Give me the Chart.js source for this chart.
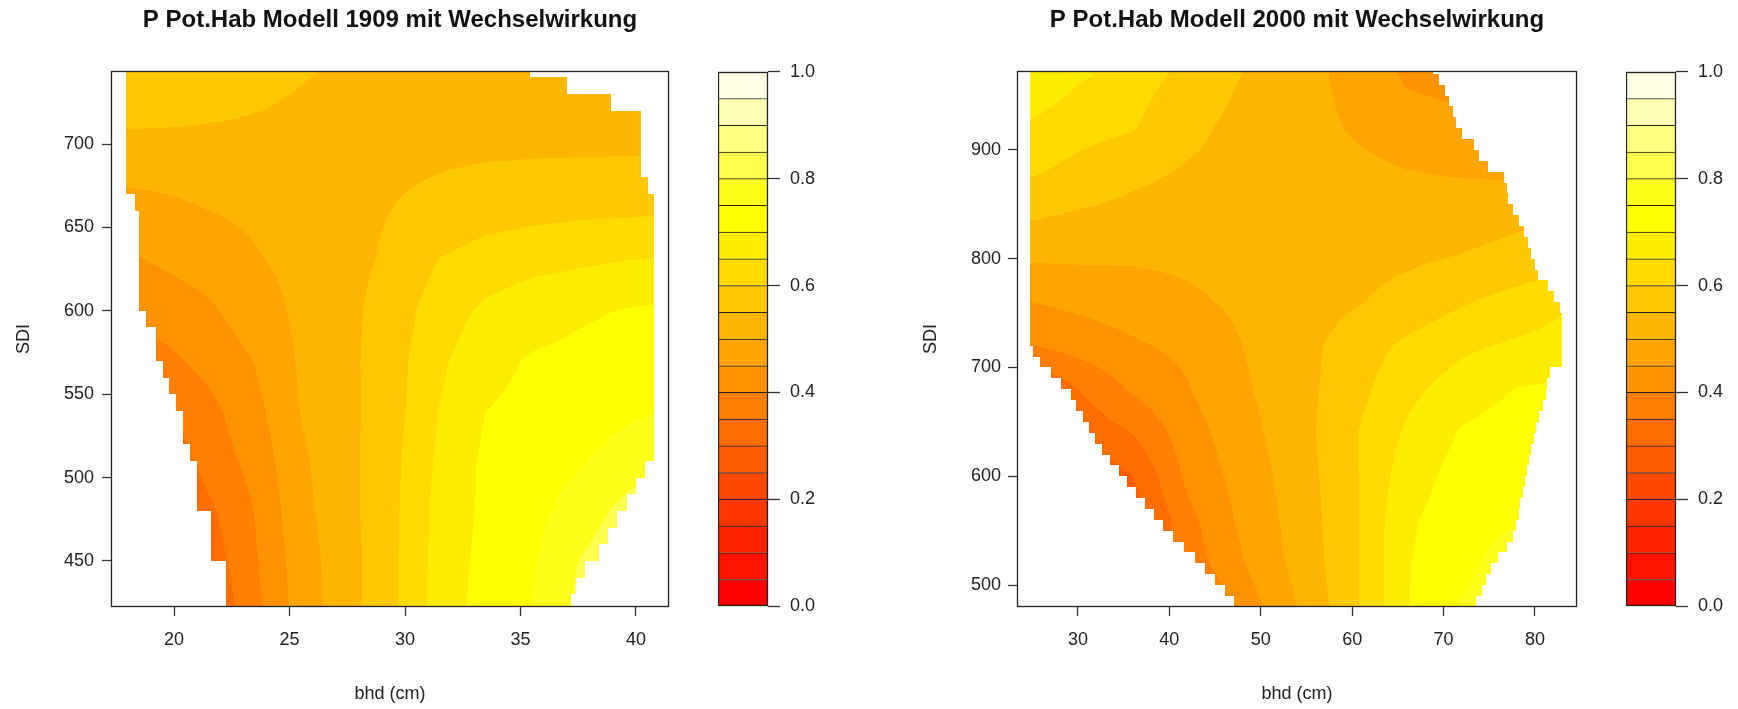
<!DOCTYPE html>
<html>
<head>
<meta charset="utf-8">
<script src="https://cdn.jsdelivr.net/npm/chart.js@4.4.1/dist/chart.umd.min.js"></script>
<style>
  body { margin: 0; background: #fff; }
  #wrap { position: relative; width: 1738px; height: 709px; overflow: hidden; background: #fff; }
  canvas { position: absolute; }
</style>
</head>
<body>
<div id="wrap">
  <canvas id="plot1909" width="780" height="709" style="left:0;top:0"></canvas>
  <canvas id="plot2000" width="820" height="709" style="left:887px;top:0"></canvas>
  <canvas id="key1909" width="112" height="576" style="left:718px;top:51px"></canvas>
  <canvas id="key2000" width="112" height="576" style="left:1626px;top:51px"></canvas>
</div>
<script>
const FONT = "'Liberation Sans', Arial, Helvetica, sans-serif";

// contour levels and colours (heat.colors(20))
const levels = [0, 0.05, 0.1, 0.15, 0.2, 0.25, 0.3, 0.35, 0.4, 0.45, 0.5,
                0.55, 0.6, 0.65, 0.7, 0.75, 0.8, 0.85, 0.9, 0.95, 1];
const levelColors = ['#FF0000', '#FF1200', '#FF2400', '#FF3700', '#FF4900',
                     '#FF5B00', '#FF6D00', '#FF8000', '#FF9200', '#FFA400',
                     '#FFB600', '#FFC800', '#FFDB00', '#FFED00', '#FFFF00',
                     '#FFFF1A', '#FFFF4D', '#FFFF80', '#FFFFB3', '#FFFFE6'];
const keyTicks = [0, 0.2, 0.4, 0.6, 0.8, 1];

// --- Modell 1909 ---
const bhd1909 = [17.5, 19.5, 21.5, 23.5, 25.5, 27.5, 29.5, 31.5, 33.5, 35.5, 37.5, 39.5, 41.5];
const sdi1909 = [420, 450, 480, 510, 540, 570, 600, 630, 660, 690, 720, 750];
const p1909 = [
  [0.15, 0.21, 0.30, 0.385, 0.473, 0.53, 0.592, 0.673, 0.72, 0.75, 0.81, 0.85, 0.88],
  [0.17, 0.24, 0.32, 0.394, 0.477, 0.53, 0.592, 0.67, 0.716, 0.745, 0.80, 0.84, 0.87],
  [0.20, 0.27, 0.34, 0.402, 0.485, 0.535, 0.59, 0.667, 0.71, 0.735, 0.77, 0.815, 0.85],
  [0.25, 0.31, 0.37, 0.417, 0.492, 0.535, 0.588, 0.66, 0.71, 0.725, 0.745, 0.77, 0.80],
  [0.30, 0.345, 0.385, 0.435, 0.502, 0.537, 0.582, 0.652, 0.70, 0.713, 0.727, 0.74, 0.753],
  [0.36, 0.385, 0.417, 0.452, 0.507, 0.538, 0.58, 0.641, 0.684, 0.705, 0.712, 0.72, 0.725],
  [0.41, 0.425, 0.443, 0.475, 0.511, 0.537, 0.575, 0.625, 0.66, 0.678, 0.693, 0.702, 0.71],
  [0.44, 0.455, 0.47, 0.495, 0.515, 0.535, 0.56, 0.602, 0.622, 0.635, 0.642, 0.65, 0.655],
  [0.475, 0.485, 0.50, 0.51, 0.522, 0.535, 0.551, 0.565, 0.578, 0.585, 0.59, 0.592, 0.595],
  [0.525, 0.527, 0.53, 0.532, 0.535, 0.537, 0.54, 0.545, 0.549, 0.551, 0.552, 0.553, 0.554],
  [0.565, 0.562, 0.557, 0.551, 0.545, 0.54, 0.535, 0.53, 0.527, 0.525, 0.523, 0.52, 0.518],
  [0.59, 0.582, 0.574, 0.565, 0.555, 0.546, 0.537, 0.53, 0.523, 0.517, 0.512, 0.508, 0.505]
];
// data range per SDI row (rows of 10 starting at 420)
const rowStart1909 = 420;
const minBhd1909 = [22.25, 22.25, 22.25, 21.6, 21.6, 21.6, 21.0, 21.0, 21.0, 20.7, 20.4, 20.4,
                    20.1, 19.8, 19.5, 19.2, 19.2, 18.8, 18.5, 18.5, 18.5, 18.5, 18.5, 18.5,
                    18.3, 17.9, 17.9, 17.9, 17.9, 17.9, 17.9, 17.9, 17.9];
const maxBhd1909 = [37.2, 37.4, 37.8, 38.4, 38.8, 39.2, 39.6, 40.0, 40.4, 40.8, 40.8, 40.8,
                    40.8, 40.8, 40.8, 40.8, 40.8, 40.8, 40.8, 40.8, 40.8, 40.8, 40.8, 40.8,
                    40.8, 40.5, 40.2, 40.2, 40.2, 40.2, 38.9, 37.0, 35.4];
const xTicks1909 = [20, 25, 30, 35, 40];
const yTicks1909 = [450, 500, 550, 600, 650, 700];

// --- Modell 2000 ---
const bhd2000 = [24, 30, 36, 42, 48, 54, 60, 66, 72, 78, 84];
const sdi2000 = [480, 520, 560, 600, 640, 680, 720, 760, 800, 840, 880, 920, 960, 1000];
const p2000 = [
  [0.15, 0.18, 0.24, 0.32, 0.42, 0.50, 0.586, 0.697, 0.755, 0.82, 0.87],
  [0.15, 0.20, 0.27, 0.37, 0.447, 0.515, 0.586, 0.697, 0.734, 0.78, 0.82],
  [0.15, 0.20, 0.27, 0.385, 0.461, 0.519, 0.587, 0.693, 0.725, 0.748, 0.77],
  [0.20, 0.25, 0.30, 0.412, 0.47, 0.524, 0.59, 0.676, 0.72, 0.74, 0.75],
  [0.22, 0.31, 0.352, 0.427, 0.482, 0.528, 0.593, 0.657, 0.705, 0.725, 0.735],
  [0.28, 0.35, 0.407, 0.447, 0.493, 0.53, 0.58, 0.637, 0.673, 0.702, 0.71],
  [0.395, 0.42, 0.443, 0.462, 0.50, 0.531, 0.571, 0.61, 0.641, 0.657, 0.668],
  [0.448, 0.462, 0.475, 0.49, 0.51, 0.527, 0.545, 0.566, 0.595, 0.62, 0.648],
  [0.505, 0.506, 0.505, 0.51, 0.52, 0.527, 0.535, 0.543, 0.553, 0.565, 0.578],
  [0.558, 0.545, 0.535, 0.53, 0.527, 0.525, 0.523, 0.522, 0.528, 0.54, 0.55],
  [0.61, 0.585, 0.562, 0.545, 0.535, 0.522, 0.51, 0.501, 0.495, 0.49, 0.485],
  [0.645, 0.618, 0.603, 0.563, 0.535, 0.515, 0.497, 0.48, 0.47, 0.465, 0.46],
  [0.69, 0.65, 0.617, 0.583, 0.546, 0.517, 0.489, 0.447, 0.43, 0.42, 0.41],
  [0.73, 0.69, 0.645, 0.60, 0.56, 0.52, 0.48, 0.43, 0.41, 0.40, 0.39]
];
const rowStart2000 = 480;
const minBhd2000 = [47.1, 46.1, 45.0, 43.9, 42.8, 41.6, 40.4, 39.25, 38.3, 37.35,
                    36.4, 35.4, 34.5, 33.5, 32.6, 31.9, 31.2, 30.5, 29.8, 29.2,
                    28.1, 27.0, 25.8, 25.1, 24.8, 24.8, 24.8, 24.8, 24.8, 24.8,
                    24.8, 24.8, 24.8, 24.8, 24.8, 24.8, 24.8, 24.8, 24.8, 24.8,
                    24.8, 24.8, 24.8, 24.8, 24.8, 24.8, 24.8, 24.8, 24.8, 24.8];
const maxBhd2000 = [73.5, 74.2, 74.6, 75.2, 76.0, 76.9, 77.6, 77.9, 78.2, 78.4,
                    78.65, 78.9, 79.15, 79.4, 79.6, 79.85, 80.1, 80.4, 80.9, 81.2,
                    81.3, 81.6, 83.0, 83.0, 83.0, 83.0, 83.0, 82.7, 82.1, 81.4,
                    80.3, 80.0, 79.6, 79.2, 78.8, 78.3, 77.6, 77.0, 76.9, 76.6,
                    74.9, 73.9, 73.3, 72.0, 71.4, 71.0, 70.6, 70.2, 69.5, 68.8];
const xTicks2000 = [30, 40, 50, 60, 70, 80];
const yTicks2000 = [500, 600, 700, 800, 900];

const rgbLevels = levelColors.map(h => [parseInt(h.slice(1, 3), 16), parseInt(h.slice(3, 5), 16), parseInt(h.slice(5, 7), 16)]);

function locate(nodes, v) {
  let i = 0;
  while (i < nodes.length - 2 && v > nodes[i + 1]) i++;
  let t = (v - nodes[i]) / (nodes[i + 1] - nodes[i]);
  return [i, Math.max(0, Math.min(1, t))];
}
function valueAt(g, bx, sy) {
  const [i, t] = locate(g.xs, bx);
  const [j, u] = locate(g.ys, sy);
  const z = g.z;
  return (1 - t) * (1 - u) * z[j][i] + t * (1 - u) * z[j][i + 1] +
         (1 - t) * u * z[j + 1][i] + t * u * z[j + 1][i + 1];
}
function levelIndex(v) {
  for (let k = 0; k < levels.length - 1; k++) if (v < levels[k + 1]) return k;
  return levels.length - 2;
}

// filled contour drawn through the chart's x / y scales
const contourFill = {
  id: 'contourFill',
  beforeDatasetsDraw(chart, args, g) {
    const { ctx, chartArea: a, scales: { x, y } } = chart;
    const w = Math.round(a.right - a.left), h = Math.round(a.bottom - a.top);
    const img = ctx.createImageData(w, h);
    for (let py = 0; py < h; py++) {
      const sdi = y.getValueForPixel(a.top + py + 0.5);
      const row = Math.floor((sdi - g.rowStart) / 10);
      if (row < 0 || row >= g.minX.length) continue;
      const lo = g.minX[row], hi = g.maxX[row];
      for (let px = 0; px < w; px++) {
        const bhd = x.getValueForPixel(a.left + px + 0.5);
        if (bhd < lo || bhd > hi) continue;
        const c = rgbLevels[levelIndex(valueAt(g, bhd, sdi))];
        const o = (py * w + px) * 4;
        img.data[o] = c[0]; img.data[o + 1] = c[1]; img.data[o + 2] = c[2]; img.data[o + 3] = 255;
      }
    }
    const off = document.createElement('canvas');
    off.width = w; off.height = h;
    off.getContext('2d').putImageData(img, 0, 0);
    ctx.drawImage(off, a.left, a.top);
  }
};

const plotBox = {
  id: 'plotBox',
  afterDatasetsDraw(chart) {
    const { ctx, chartArea: a } = chart;
    ctx.save();
    ctx.strokeStyle = '#222';
    ctx.lineWidth = 1.3;
    ctx.strokeRect(Math.round(a.left) + 0.5, Math.round(a.top) + 0.5,
                   Math.round(a.right - a.left) - 1, Math.round(a.bottom - a.top) - 1);
    ctx.restore();
  }
};

const tickFont = { family: FONT, size: 18 };

function plotChart(id, title, xr, yr, xTicks, yTicks, grid, yW, sdiPad, labPad) {
  return new Chart(document.getElementById(id), {
    type: 'scatter',
    data: { datasets: [] },
    options: {
      responsive: false, animation: false, devicePixelRatio: 1,
      layout: { padding: 0 },
      plugins: {
        legend: { display: false },
        tooltip: { enabled: false },
        title: {
          display: true, text: title, color: '#111',
          font: { family: FONT, size: 24, weight: 'bold', lineHeight: 1.2 },
          padding: { top: 5.6, bottom: 36.6 }
        },
        contourFill: grid
      },
      scales: {
        x: {
          type: 'linear', min: xr[0], max: xr[1],
          afterBuildTicks: s => { s.ticks = xTicks.map(v => ({ value: v })); },
          afterFit: s => { s.height = 102; },
          grid: { display: true, drawOnChartArea: false, tickLength: 9, tickColor: '#333', tickWidth: 1.3 },
          border: { display: false },
          ticks: { color: '#222', font: tickFont, padding: 13, maxRotation: 0 },
          title: { display: true, text: 'bhd (cm)', color: '#222', font: tickFont, padding: { top: 0, bottom: 4 } }
        },
        y: {
          type: 'linear', min: yr[0], max: yr[1],
          afterBuildTicks: s => { s.ticks = yTicks.map(v => ({ value: v })); },
          afterFit: s => { s.width = yW; },
          grid: { display: true, drawOnChartArea: false, tickLength: 9, tickColor: '#333', tickWidth: 1.3 },
          border: { display: false },
          ticks: { color: '#222', font: tickFont, padding: labPad },
          title: { display: true, text: 'SDI', color: '#222', font: tickFont, padding: { top: sdiPad, bottom: 0 } }
        },
        yr: {
          position: 'right', display: true,
          afterFit: s => { s.width = yW; },
          grid: { display: false }, ticks: { display: false }, border: { display: false }
        }
      }
    },
    plugins: [contourFill, plotBox]
  });
}

function keyChart(id) {
  return new Chart(document.getElementById(id), {
    type: 'bar',
    data: {
      labels: [''],
      datasets: levelColors.map((col, i) => ({
        data: [[levels[i], levels[i + 1]]],
        backgroundColor: col, borderColor: '#222',
        borderWidth: { top: 1, bottom: 0, left: 0, right: 0 }, borderSkipped: false,
        grouped: false, barPercentage: 1, categoryPercentage: 1
      }))
    },
    options: {
      responsive: false, animation: false, devicePixelRatio: 1,
      layout: { padding: { top: 20, bottom: 20, left: 0, right: 0 } },
      plugins: { legend: { display: false }, tooltip: { enabled: false } },
      scales: {
        x: { display: false },
        y: {
          position: 'right', min: 0, max: 1,
          afterBuildTicks: s => { s.ticks = keyTicks.map(v => ({ value: v })); },
          afterFit: s => { s.width = 62; },
          grid: { display: true, drawOnChartArea: false, tickLength: 12, tickColor: '#333', tickWidth: 1.3 },
          border: { display: false },
          ticks: { color: '#222', font: tickFont, padding: 10, callback: v => v.toFixed(1) }
        }
      }
    },
    plugins: [plotBox]
  });
}

plotChart('plot1909', 'P Pot.Hab Modell 1909 mit Wechselwirkung',
  [17.27, 41.43], [422.4, 743.8], xTicks1909, yTicks1909,
  { xs: bhd1909, ys: sdi1909, z: p1909, rowStart: rowStart1909, minX: minBhd1909, maxX: maxBhd1909 },
  111, 13, 8);
plotChart('plot2000', 'P Pot.Hab Modell 2000 mit Wechselwirkung',
  [23.33, 84.6], [479.8, 972.6], xTicks2000, yTicks2000,
  { xs: bhd2000, ys: sdi2000, z: p2000, rowStart: rowStart2000, minX: minBhd2000, maxX: maxBhd2000 },
  130, 33, 7);
keyChart('key1909');
keyChart('key2000');
</script>
</body>
</html>
